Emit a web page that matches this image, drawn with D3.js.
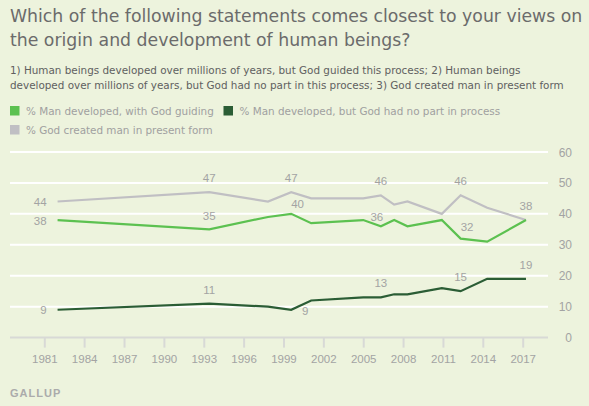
<!DOCTYPE html>
<html>
<head>
<meta charset="utf-8">
<script src="https://cdn.jsdelivr.net/npm/d3@7"></script>
<style>
  html, body { margin: 0; padding: 0; background: #edf3dd; }
  svg { display: block; font-family: "Liberation Sans", Arial, sans-serif; }
</style>
</head>
<body>
<svg id="chart" width="589" height="406"></svg>
<script>
// survey dates and values
var dates = ["1982-01", "1993-06", "1997-11", "1999-08", "2001-02", "2005-01", "2006-05",
             "2007-05", "2008-05", "2010-12", "2012-05", "2014-05", "2017-04"];
var guided   = [38, 35, 39, 40, 37, 38, 36, 38, 36, 38, 32, 31, 38];
var secular  = [9, 11, 10, 9, 12, 13, 13, 14, 14, 16, 15, 19, 19];
var creation = [44, 47, 44, 47, 45, 45, 46, 43, 44, 40, 46, 42, 38];

var yTicks = [0, 10, 20, 30, 40, 50, 60];
var xTickYears = [1981, 1984, 1987, 1990, 1993, 1996, 1999, 2002, 2005, 2008, 2011, 2014, 2017];

var seriesNames = ["% Man developed, with God guiding",
                   "% Man developed, but God had no part in process",
                   "% God created man in present form"];
var seriesColors = ["#5cc150", "#2b5d35", "#c0bfc3"];

// which points carry a value label
var labelIdx = {
  guided:   [0, 1, 3, 6, 10],
  secular:  [0, 1, 3, 6, 10, 12],
  creation: [0, 1, 3, 6, 10, 12]
};

var svg = d3.select("#chart");
var parse = d3.timeParse("%Y-%m");
var pdates = dates.map(parse);

var x = d3.scaleTime()
  .domain([new Date(1981, 0, 1), new Date(2017, 0, 1)])
  .range([44.3, 522.7]);
var y = d3.scaleLinear().domain([0, 60]).range([337.6, 152]);

var wide = "'DejaVu Sans', Verdana, sans-serif";

// title
var title = svg.append("text")
  .attr("fill", "#6b6b6b")
  .attr("font-family", wide)
  .attr("font-size", "17.3px");
title.append("tspan").attr("x", 10).attr("y", 21.5)
  .text("Which of the following statements comes closest to your views on");
title.append("tspan").attr("x", 10).attr("y", 46)
  .text("the origin and development of human beings?");

var sub = svg.append("text")
  .attr("fill", "#606060")
  .attr("font-family", wide)
  .attr("font-size", "10.4px");
sub.append("tspan").attr("x", 10).attr("y", 74)
  .text("1) Human beings developed over millions of years, but God guided this process; 2) Human beings");
sub.append("tspan").attr("x", 10).attr("y", 88.5)
  .text("developed over millions of years, but God had no part in this process; 3) God created man in present form");

// legend
var legendPos = [[10, 106], [223.5, 106], [10, 125]];
var legend = svg.append("g").selectAll("g")
  .data(seriesNames)
  .enter()
  .append("g")
  .attr("transform", function (d, i) {
    return "translate(" + legendPos[i][0] + "," + legendPos[i][1] + ")";
  });
legend.append("rect")
  .attr("width", 9.5).attr("height", 9.5)
  .attr("fill", function (d, i) { return seriesColors[i]; });
legend.append("text")
  .attr("x", 16).attr("y", 8.5)
  .attr("font-family", wide)
  .attr("font-size", "10.4px")
  .attr("fill", "#a0a0a0")
  .text(function (d) { return d; });

// grid
svg.append("g").selectAll("line")
  .data(yTicks.filter(function (d) { return d > 0; }))
  .enter()
  .append("line")
  .attr("x1", 10).attr("x2", 548)
  .attr("y1", function (d) { return y(d); })
  .attr("y2", function (d) { return y(d); })
  .attr("stroke", "#ffffff")
  .attr("stroke-width", 2);

// y labels on the right
svg.append("g").selectAll("text")
  .data(yTicks)
  .enter()
  .append("text")
  .attr("x", 572)
  .attr("y", function (d) { return y(d) + 4.5; })
  .attr("text-anchor", "end")
  .attr("font-size", "12px")
  .attr("fill", "#a3a3a3")
  .text(function (d) { return d; });

// x axis
var xAxis = d3.axisBottom(x)
  .tickValues(xTickYears.map(function (d) { return new Date(d, 0, 1); }))
  .tickFormat(d3.timeFormat("%Y"))
  .tickSize(10)
  .tickPadding(7);
var gx = svg.append("g")
  .attr("transform", "translate(0," + y(0) + ")")
  .call(xAxis);
gx.select(".domain").remove();
gx.selectAll(".tick line").attr("stroke", "#d8d9d6").attr("stroke-width", 2);
gx.selectAll(".tick text")
  .attr("fill", "#a3a3a3")
  .attr("font-size", "11.5px")
  .attr("font-family", "Liberation Sans, Arial, sans-serif");
svg.append("line")
  .attr("x1", 10).attr("x2", 548)
  .attr("y1", y(0)).attr("y2", y(0))
  .attr("stroke", "#d8d9d6")
  .attr("stroke-width", 2);

// lines
var line = d3.line()
  .x(function (d) { return x(d.date); })
  .y(function (d) { return y(d.value); });

function toPoints(values) {
  return values.map(function (v, i) { return { date: pdates[i], value: v, i: i }; });
}

var series = [
  { key: "creation", values: creation, color: seriesColors[2] },
  { key: "guided", values: guided, color: seriesColors[0] },
  { key: "secular", values: secular, color: seriesColors[1] }
];

svg.append("g").selectAll("path")
  .data(series)
  .enter()
  .append("path")
  .attr("d", function (s) { return line(toPoints(s.values)); })
  .attr("fill", "none")
  .attr("stroke", function (s) { return s.color; })
  .attr("stroke-width", 2.2)
  .attr("stroke-linejoin", "miter");

// value labels: offset relative to the point
function labelOffset(key, i) {
  if (i === 0) return [-11, 4.5, "end"];
  if (key === "guided" && i === 3) return [0, -5.5, "start"];
  if (key === "secular" && i === 3) return [14, 5.5, "middle"];
  if (key === "guided" && i === 6) return [-4, -5.5, "middle"];
  if (key === "guided" && i === 10) return [6.5, -7.5, "middle"];
  if (key === "guided" && i === 1) return [0, -9, "middle"];
  return [0, -10, "middle"];
}

series.forEach(function (s) {
  var pts = toPoints(s.values).filter(function (p) { return labelIdx[s.key].indexOf(p.i) >= 0; });
  svg.append("g").selectAll("text")
    .data(pts)
    .enter()
    .append("text")
    .attr("x", function (p) { return x(p.date) + labelOffset(s.key, p.i)[0]; })
    .attr("y", function (p) { return y(p.value) + labelOffset(s.key, p.i)[1]; })
    .attr("text-anchor", function (p) { return labelOffset(s.key, p.i)[2]; })
    .attr("font-size", "11.5px")
    .attr("fill", "#a3a3a3")
    .text(function (p) { return p.value; });
});

// footer
svg.append("text")
  .attr("x", 10).attr("y", 397)
  .attr("font-size", "11px")
  .attr("font-weight", "bold")
  .attr("letter-spacing", "1px")
  .attr("fill", "#ababab")
  .text("GALLUP");
</script>
</body>
</html>
